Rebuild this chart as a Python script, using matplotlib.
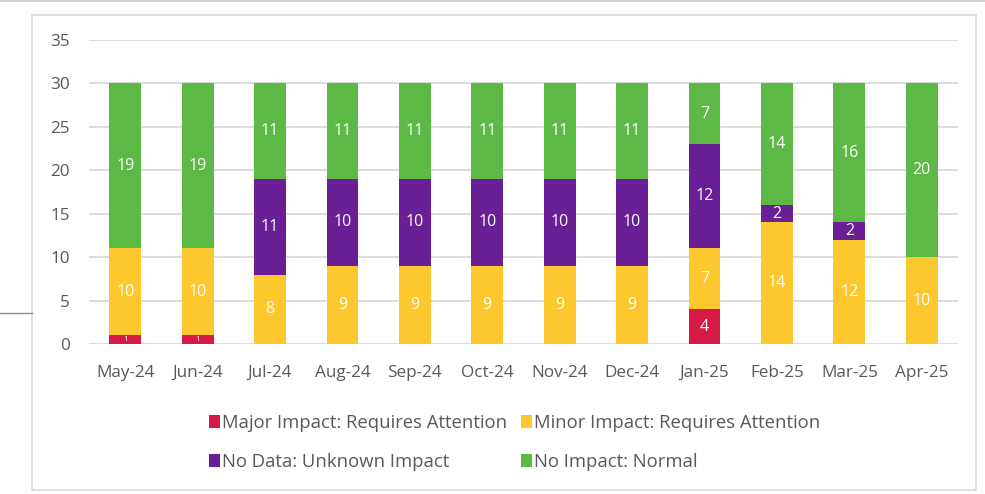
import matplotlib
matplotlib.use("Agg")
import matplotlib.pyplot as plt
from matplotlib.patches import Rectangle, Patch
from matplotlib.lines import Line2D
import numpy as np

months = ["May-24", "Jun-24", "Jul-24", "Aug-24", "Sep-24", "Oct-24",
          "Nov-24", "Dec-24", "Jan-25", "Feb-25", "Mar-25", "Apr-25"]
major = [1, 1, 0, 0, 0, 0, 0, 0, 4, 0, 0, 0]
minor = [10, 10, 8, 9, 9, 9, 9, 9, 7, 14, 12, 10]
nodata = [0, 0, 11, 10, 10, 10, 10, 10, 12, 2, 2, 0]
normal = [19, 19, 11, 11, 11, 11, 11, 11, 7, 14, 16, 20]
series_names = ["Major Impact: Requires Attention", "Minor Impact: Requires Attention",
                "No Data: Unknown Impact", "No Impact: Normal"]
colors = ["#d61a46", "#fcc82d", "#6b1f96", "#5cb946"]

plt.rcParams['font.family'] = ['Open Sans', 'DejaVu Sans']

fig = plt.figure(figsize=(9.85, 4.94), dpi=100)
ax = fig.add_axes([89/985, 1-344/494, (958-89)/985, (344-40)/494])

x = np.arange(len(months))
bottom = np.zeros(len(months))
for vals, col, name in zip([major, minor, nodata, normal], colors, series_names):
    vals = np.array(vals, dtype=float)
    ax.bar(x, vals, bottom=bottom, width=0.44, color=col, label=name, zorder=3)
    for xi, v, b in zip(x, vals, bottom):
        if v > 0:
            fs = 6 if v < 1.5 else 11.5
            ax.text(xi, b + v/2, f"{int(v)}", ha="center", va="center",
                    color="white", fontsize=fs, zorder=4)
    bottom += vals

ax.set_xlim(-0.5, len(months) - 0.5)
ax.set_ylim(0, 35)
ax.set_yticks(range(0, 36, 5))
ax.set_xticks(x)
ax.set_xticklabels(months)
ax.grid(axis="y", color="#d9d9d9", linewidth=1.3, zorder=0)
ax.set_axisbelow(True)
for s in ax.spines.values():
    s.set_visible(False)
ax.tick_params(axis="both", length=0, colors="#595959", labelsize=12.3)
ax.tick_params(axis="y", pad=14)
ax.tick_params(axis="x", pad=15)

# outer frame
fig.patches.append(Rectangle((32/985, 1-490/494), (976-32)/985, (490-15)/494,
                             transform=fig.transFigure, fill=False,
                             edgecolor="#d9d9d9", linewidth=1.2))
fig.lines.append(Line2D([0, 32/985], [1-313/494, 1-313/494], transform=fig.transFigure,
                        color="#8c8c8c", linewidth=1))
fig.lines.append(Line2D([0, 1], [1-1/494, 1-1/494], transform=fig.transFigure,
                        color="#d0d0d0", linewidth=1.5))

order = [0, 2, 1, 3]
handles = [Patch(facecolor=colors[i], edgecolor="none") for i in order]
labels = [series_names[i] for i in order]
leg = fig.legend(handles, labels, ncol=2, loc="upper left",
                 bbox_to_anchor=(192/985, 1-397/494), frameon=False,
                 fontsize=13.3, handlelength=0.6, handleheight=0.7, handletextpad=0.15,
                 columnspacing=0.7, labelspacing=1.15, labelcolor="#595959")

fig.savefig("out.png", dpi=100)
